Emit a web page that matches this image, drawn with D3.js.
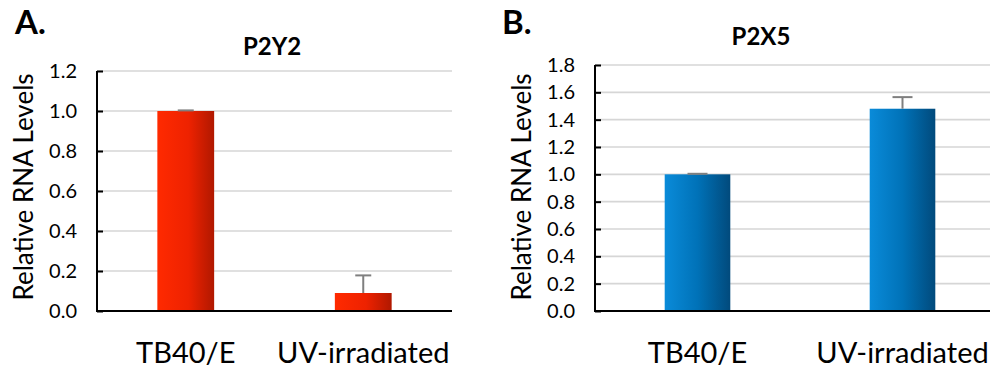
<!DOCTYPE html>
<html>
<head>
<meta charset="utf-8">
<script src="https://cdn.jsdelivr.net/npm/d3@7"></script>
<style>
  body { margin: 0; background: #fff; }
  svg { display: block; font-family: Lato, "Noto Sans", sans-serif; }
</style>
</head>
<body>
<div id="chart-area"></div>
<script>
// data
var categories = ["TB40/E", "UV-irradiated"];
var p2y2Values = [1.0, 0.09];
var p2y2Errors = [0.003, 0.088];
var p2y2Ticks = [0, 0.2, 0.4, 0.6, 0.8, 1.0, 1.2];
var p2x5Values = [1.0, 1.48];
var p2x5Errors = [0.004, 0.085];
var p2x5Ticks = [0, 0.2, 0.4, 0.6, 0.8, 1.0, 1.2, 1.4, 1.6, 1.8];

var svg = d3.select("#chart-area").append("svg")
    .attr("width", 990)
    .attr("height", 371);

var defs = svg.append("defs");

function addGradient(id, stops) {
    var g = defs.append("linearGradient").attr("id", id)
        .attr("x1", "0%").attr("x2", "100%").attr("y1", "0%").attr("y2", "0%");
    stops.forEach(s => g.append("stop").attr("offset", s[0]).attr("stop-color", s[1]));
}
addGradient("redGrad", [["0%", "#ff2a00"], ["55%", "#ee2200"], ["100%", "#b01800"]]);
addGradient("blueGrad", [["0%", "#0a8bd9"], ["50%", "#0072b8"], ["100%", "#014a7c"]]);

function drawPanel(opts) {
    var x = d3.scaleBand().domain(categories).range([opts.left, opts.right]);
    var y = d3.scaleLinear().domain([0, opts.max]).range([311, opts.top]);
    var g = svg.append("g");

    // gridlines
    g.selectAll("line.grid").data(opts.ticks.slice(1)).enter().append("line")
        .attr("class", "grid")
        .attr("x1", opts.left).attr("x2", opts.right)
        .attr("y1", d => y(d)).attr("y2", d => y(d))
        .attr("stroke", "#d6d6d6").attr("stroke-width", 1.6);

    // y axis
    var yAxis = g.append("g").attr("transform", `translate(${opts.left},0)`)
        .call(d3.axisRight(y).tickValues(opts.ticks).tickSize(6).tickFormat(""));
    yAxis.select(".domain").attr("stroke", "#000").attr("stroke-width", 2).attr("d", `M0,${opts.top}V311`);
    yAxis.selectAll(".tick line").attr("stroke", "#000").attr("stroke-width", 2);

    g.selectAll("text.ytick").data(opts.ticks).enter().append("text")
        .attr("class", "ytick")
        .attr("x", opts.left - 20)
        .attr("y", d => y(d) + 7)
        .attr("text-anchor", "end")
        .attr("font-size", 20)
        .attr("fill", "#000")
        .text(d => d3.format(".1f")(d));

    // bars
    var bw = x.bandwidth() * 0.32;
    g.selectAll("rect.bar").data(opts.values).enter().append("rect")
        .attr("class", "bar")
        .attr("x", (d, i) => x(categories[i]) + x.bandwidth() / 2 - bw / 2)
        .attr("width", bw)
        .attr("y", d => y(d))
        .attr("height", d => 311 - y(d))
        .attr("fill", `url(#${opts.grad})`);

    // error bars (upper only)
    opts.values.forEach((v, i) => {
        var cx = x(categories[i]) + x.bandwidth() / 2;
        var top = y(v + opts.errors[i]);
        g.append("line").attr("x1", cx).attr("x2", cx).attr("y1", y(v)).attr("y2", top)
            .attr("stroke", "#7f7f7f").attr("stroke-width", 2);
        g.append("line").attr("x1", cx - opts.cap).attr("x2", cx + opts.cap).attr("y1", top).attr("y2", top)
            .attr("stroke", "#7f7f7f").attr("stroke-width", 2);
    });

    // x axis
    g.append("line").attr("x1", opts.left - 1).attr("x2", opts.right).attr("y1", 311).attr("y2", 311)
        .attr("stroke", "#000").attr("stroke-width", 2);

    g.selectAll("text.cat").data(categories).enter().append("text")
        .attr("class", "cat")
        .attr("x", d => x(d) + x.bandwidth() / 2)
        .attr("y", 363)
        .attr("text-anchor", "middle")
        .attr("font-size", 29)
        .text(d => d);

    g.append("text")
        .attr("transform", `translate(${opts.axisTitleX},187) rotate(-90)`)
        .attr("text-anchor", "middle")
        .attr("font-size", 26)
        .text("Relative RNA Levels");

    g.append("text")
        .attr("x", opts.titleX).attr("y", opts.titleY)
        .attr("text-anchor", "middle")
        .attr("font-size", 24).attr("font-weight", "bold")
        .text(opts.title);

    g.append("text")
        .attr("x", opts.letterX).attr("y", 34)
        .attr("font-size", 33).attr("font-weight", "bold")
        .text(opts.letter);
}

drawPanel({
    letter: "A.", letterX: 15, title: "P2Y2", titleX: 272, titleY: 55,
    left: 97, right: 452, top: 71, max: 1.2, ticks: p2y2Ticks,
    values: p2y2Values, errors: p2y2Errors, grad: "redGrad", cap: 8, axisTitleX: 33
});
drawPanel({
    letter: "B.", letterX: 502, title: "P2X5", titleX: 761, titleY: 45,
    left: 595, right: 1005, top: 65, max: 1.8, ticks: p2x5Ticks,
    values: p2x5Values, errors: p2x5Errors, grad: "blueGrad", cap: 10, axisTitleX: 531
});
</script>
</body>
</html>
